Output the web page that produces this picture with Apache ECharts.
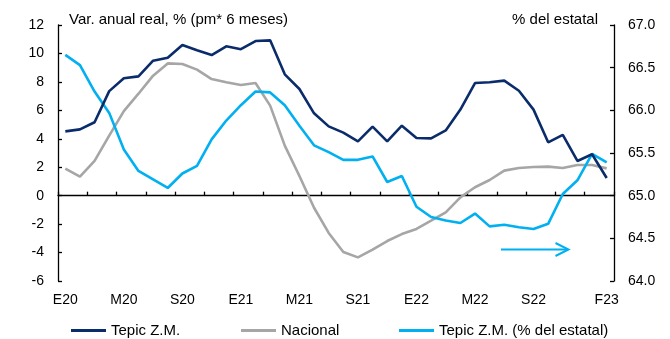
<!DOCTYPE html>
<html>
<head>
<meta charset="utf-8">
<script src="https://cdn.jsdelivr.net/npm/echarts@6/dist/echarts.min.js"></script>
<style>
html,body{margin:0;padding:0;background:#fff;}
#chart{width:670px;height:339px;}
</style>
</head>
<body>
<div id="chart"></div>
<script>
// Months Jan 2020 .. Feb 2023
const categories = [
  '2020-01','2020-02','2020-03','2020-04','2020-05','2020-06','2020-07','2020-08','2020-09','2020-10','2020-11','2020-12',
  '2021-01','2021-02','2021-03','2021-04','2021-05','2021-06','2021-07','2021-08','2021-09','2021-10','2021-11','2021-12',
  '2022-01','2022-02','2022-03','2022-04','2022-05','2022-06','2022-07','2022-08','2022-09','2022-10','2022-11','2022-12',
  '2023-01','2023-02'
];
const tickLabels = ['E20','M20','S20','E21','M21','S21','E22','M22','S22','F23'];
const tickLabelIndex = [0,4,8,12,16,20,24,28,32,37];

const tepicZM = [4.52,4.66,5.16,7.35,8.25,8.39,9.49,9.70,10.60,10.22,9.89,10.50,10.30,10.87,10.92,8.53,7.50,5.79,4.87,4.43,
  3.82,4.85,3.82,4.92,4.05,4.03,4.59,6.05,7.92,7.97,8.09,7.38,6.05,3.75,4.27,2.44,2.91,1.24];
const nacional = [1.90,1.34,2.44,4.22,5.95,7.17,8.44,9.30,9.26,8.86,8.20,7.97,7.78,7.92,6.33,3.52,1.38,-0.85,-2.62,-3.96,
  -4.34,-3.80,-3.19,-2.70,-2.34,-1.76,-1.17,-0.12,0.59,1.10,1.76,1.95,2.02,2.04,1.95,2.16,2.16,1.92];
const tepicShare = [66.65,66.53,66.22,65.97,65.54,65.29,65.19,65.09,65.26,65.35,65.66,65.88,66.06,66.22,66.21,66.06,65.82,65.59,65.51,65.42,
  65.42,65.46,65.16,65.23,64.87,64.75,64.71,64.68,64.79,64.64,64.66,64.63,64.61,64.67,65.02,65.18,65.49,65.39];

const NAVY = '#0b2c6b', GRAY = '#a6a6a6', CYAN = '#00b0f0';
const FONT = 'Liberation Sans, Arial, sans-serif';
const FS = 14;
const FS_T = 15;

const chart = echarts.init(document.getElementById('chart'), null, {renderer:'canvas'});
const legendBase = {
  orient:'horizontal', top:318, itemWidth:35, itemHeight:3, icon:'rect', itemGap:5,
  textStyle:{fontFamily:FONT, fontSize:FS_T, color:'#000'}, selectedMode:false
};
chart.setOption({
  animation:false,
  textStyle:{fontFamily:FONT},
  title:[
    {text:'Var. anual real, % (pm* 6 meses)', left:64, top:7, textStyle:{fontFamily:FONT, fontSize:FS_T, fontWeight:'normal', color:'#000'}},
    {text:'% del estatal', right:67, top:7, textStyle:{fontFamily:FONT, fontSize:FS_T, fontWeight:'normal', color:'#000'}}
  ],
  legend:[
    Object.assign({}, legendBase, {left:66, data:['Tepic Z.M.']}),
    Object.assign({}, legendBase, {left:236, data:['Nacional']}),
    Object.assign({}, legendBase, {left:394, data:['Tepic Z.M. (% del estatal)']})
  ],
  grid:{left:58, right:56, top:25, bottom:58, containLabel:false},
  xAxis:[
    {
      type:'category', data:categories, boundaryGap:true, position:'bottom',
      axisLine:{show:false, onZero:false},
      axisTick:{show:false},
      axisLabel:{
        interval:(i)=>tickLabelIndex.indexOf(i)>=0,
        formatter:(v,i)=>{const k=tickLabelIndex.indexOf(i); return k>=0?tickLabels[k]:'';},
        fontFamily:FONT, fontSize:FS, color:'#000', margin:12
      },
      splitLine:{show:false}
    },
    {
      type:'category', data:categories, boundaryGap:true, position:'bottom',
      axisLine:{show:true, onZero:true, lineStyle:{color:'#000', width:1.3}},
      axisTick:{show:true, inside:true, interval:1, length:4, lineStyle:{color:'#000', width:1.3}},
      axisLabel:{show:false},
      splitLine:{show:false}
    }
  ],
  yAxis:[
    {
      type:'value', min:-6, max:12, interval:2, position:'left',
      axisLine:{show:true, lineStyle:{color:'#000', width:1.3}},
      axisTick:{show:true, inside:true, length:4, lineStyle:{color:'#000', width:1.3}},
      axisLabel:{fontFamily:FONT, fontSize:FS, color:'#000', margin:14},
      splitLine:{show:false}
    },
    {
      type:'value', min:64, max:67, interval:0.5, position:'right',
      axisLine:{show:true, lineStyle:{color:'#000', width:1.3}},
      axisTick:{show:true, inside:true, length:4, lineStyle:{color:'#000', width:1.3}},
      axisLabel:{fontFamily:FONT, fontSize:FS, color:'#000', margin:14, formatter:(v)=>v.toFixed(1)},
      splitLine:{show:false}
    }
  ],
  series:[
    {name:'Nacional', type:'line', data:nacional, xAxisIndex:0, yAxisIndex:0, showSymbol:false, symbol:'none',
      lineStyle:{color:GRAY, width:2.6}, itemStyle:{color:GRAY}, z:2},
    {name:'Tepic Z.M. (% del estatal)', type:'line', data:tepicShare, xAxisIndex:0, yAxisIndex:1, showSymbol:false, symbol:'none',
      lineStyle:{color:CYAN, width:2.6}, itemStyle:{color:CYAN}, z:3},
    {name:'Tepic Z.M.', type:'line', data:tepicZM, xAxisIndex:0, yAxisIndex:0, showSymbol:false, symbol:'none',
      lineStyle:{color:NAVY, width:2.6}, itemStyle:{color:NAVY}, z:4}
  ],
  graphic:[
    {type:'polyline', shape:{points:[[501,249.5],[568,249.5]]}, style:{stroke:CYAN, lineWidth:2, fill:null}},
    {type:'polyline', shape:{points:[[555.5,243],[568.5,249.5],[555.5,256]]}, style:{stroke:CYAN, lineWidth:2, fill:null}}
  ]
});
</script>
</body>
</html>
